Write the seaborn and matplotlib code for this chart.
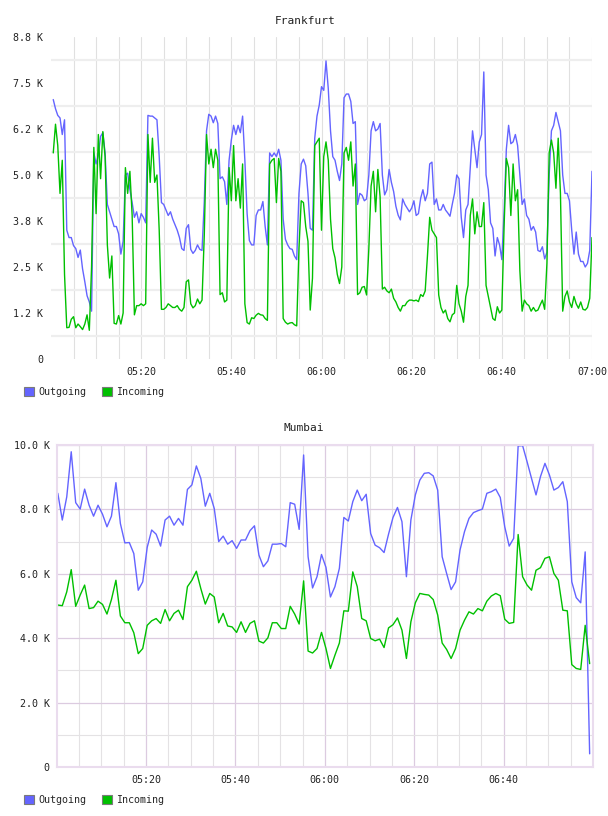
import numpy as np
import pandas as pd
import matplotlib
matplotlib.use("Agg")
import matplotlib.pyplot as plt
import matplotlib.dates as mdates
from matplotlib.patches import Patch
from matplotlib.ticker import FixedLocator, NullFormatter
import seaborn as sns

# ---------------- data (values in thousands) ----------------
frankfurt_times = pd.date_range("2024-01-01 05:00:30", periods=240, freq="30s")
frankfurt_outgoing = [
    7.05, 6.8, 6.62, 6.55, 6.1, 6.5, 3.5, 3.3, 3.3, 3.08,
    3.0, 2.76, 2.96, 2.45, 2.1, 1.72, 1.55, 1.3, 5.6, 5.3,
    5.54, 6.05, 6.15, 5.6, 4.2, 4.0, 3.8, 3.6, 3.6, 3.4,
    2.85, 3.2, 5.0, 5.05, 4.6, 4.25, 3.85, 4.0, 3.7, 3.95,
    3.85, 3.7, 6.62, 6.6, 6.6, 6.55, 6.5, 5.5, 4.25, 4.2,
    4.05, 3.9, 4.0, 3.8, 3.65, 3.5, 3.3, 3.0, 2.95, 3.55,
    3.65, 2.98, 2.87, 2.95, 3.1, 2.98, 2.95, 4.28, 6.2, 6.65,
    6.6, 6.42, 6.6, 6.4, 4.9, 4.95, 4.82, 4.2, 5.4, 5.95,
    6.35, 6.1, 6.35, 6.15, 6.6, 5.4, 3.95, 3.22, 3.1, 3.1,
    3.9, 4.05, 4.05, 4.28, 3.6, 3.1, 5.6, 5.5, 5.6, 5.5,
    5.7, 5.4, 3.8, 3.25, 3.1, 3.0, 2.98, 2.8, 2.7, 4.5,
    5.3, 5.43, 5.25, 4.5, 3.55, 3.5, 6.0, 6.6, 6.9, 7.4,
    7.3, 8.1, 7.35, 6.2, 5.5, 5.4, 5.1, 4.85, 5.3, 7.1,
    7.2, 7.2, 7.0, 6.4, 6.45, 4.2, 4.5, 4.45, 4.3, 4.35,
    5.0, 6.2, 6.45, 6.2, 6.25, 6.4, 5.0, 4.46, 4.6, 5.15,
    4.8, 4.55, 4.15, 3.91, 3.78, 4.35, 4.2, 4.1, 4.0, 4.1,
    4.3, 3.9, 3.95, 4.37, 4.6, 4.3, 4.5, 5.3, 5.35, 4.2,
    4.35, 4.05, 4.05, 4.2, 4.05, 3.97, 3.88, 4.2, 4.5, 5.0,
    4.9, 3.85, 3.3, 4.05, 4.2, 5.2, 6.2, 5.7, 5.2, 5.9,
    6.1, 7.8, 5.0, 4.6, 3.7, 3.55, 2.8, 3.3, 3.1, 2.7,
    4.0, 5.7, 6.35, 5.85, 5.9, 6.1, 5.8, 5.0, 4.2, 4.35,
    3.9, 3.8, 3.5, 3.6, 3.45, 2.95, 2.92, 3.05, 2.72, 2.9,
    5.0, 6.2, 6.35, 6.7, 6.45, 6.2, 5.0, 4.5, 4.5, 4.3,
    3.5, 2.85, 3.45, 2.85, 2.65, 2.65, 2.5, 2.6, 2.95, 5.1,
]
frankfurt_incoming = [
    5.6, 6.38, 5.8, 4.5, 5.4, 2.3, 0.85, 0.86, 1.08, 1.15,
    0.85, 0.95, 0.88, 0.8, 0.95, 1.2, 0.78, 2.5, 5.75, 3.95,
    6.1, 4.9, 6.18, 5.5, 3.1, 2.2, 2.8, 0.97, 0.95, 1.18,
    0.95, 1.25, 5.2, 4.5, 5.1, 3.9, 1.2, 1.45, 1.45, 1.5,
    1.45, 1.5, 6.1, 4.8, 6.0, 4.8, 5.0, 3.5, 1.35, 1.35,
    1.4, 1.5, 1.45, 1.4, 1.4, 1.45, 1.35, 1.3, 1.4, 2.1,
    2.15, 1.5, 1.39, 1.45, 1.63, 1.5, 1.6, 3.37, 6.1, 5.3,
    5.7, 5.2, 5.7, 5.4, 1.75, 1.8, 1.55, 1.6, 5.2, 4.3,
    5.8, 4.3, 4.9, 4.1, 5.3, 1.5, 0.99, 0.95, 1.12, 1.1,
    1.19, 1.24, 1.2, 1.19, 1.1, 1.05, 5.3, 5.4, 5.45, 4.25,
    5.45, 5.1, 1.1, 1.0, 0.95, 0.98, 0.99, 0.93, 0.9, 3.0,
    4.3, 4.25, 3.6, 3.2, 1.33, 2.2, 5.8, 5.9, 6.0, 3.5,
    5.5, 5.9, 5.4, 3.8, 3.0, 2.75, 2.3, 2.05, 2.5, 5.6,
    5.75, 5.4, 5.9, 4.7, 5.3, 1.75, 1.8, 1.95, 1.97, 1.74,
    3.0, 4.7, 5.1, 4.0, 5.15, 4.4, 1.9, 1.95, 1.85, 1.8,
    1.9, 1.65, 1.55, 1.4, 1.3, 1.45, 1.45, 1.55, 1.6, 1.6,
    1.58, 1.6, 1.56, 1.75, 1.7, 1.85, 2.8, 3.85, 3.5, 3.4,
    3.3, 1.74, 1.4, 1.25, 1.33, 1.1, 1.01, 1.2, 1.25, 2.0,
    1.5, 1.3, 1.0, 1.7, 2.0, 3.9, 4.35, 3.4, 4.0, 3.6,
    3.6, 4.25, 2.0, 1.7, 1.4, 1.1, 1.05, 1.42, 1.25, 1.33,
    3.6, 5.45, 5.2, 3.9, 5.3, 4.3, 4.6, 2.4, 1.3, 1.6,
    1.5, 1.45, 1.3, 1.4, 1.3, 1.33, 1.47, 1.6, 1.35, 2.6,
    5.6, 5.95, 5.6, 4.64, 6.0, 4.5, 1.3, 1.7, 1.85, 1.55,
    1.4, 1.7, 1.5, 1.38, 1.55, 1.35, 1.33, 1.4, 1.65, 3.3,
]

mumbai_times = pd.date_range("2024-01-01 05:00:15", periods=120, freq="60s")
mumbai_outgoing = [
    8.5, 7.67, 8.39, 9.79, 8.21, 8.01, 8.63, 8.13, 7.79, 8.13,
    7.85, 7.46, 7.79, 8.83, 7.56, 6.96, 6.97, 6.63, 5.49, 5.75,
    6.82, 7.36, 7.23, 6.86, 7.67, 7.79, 7.51, 7.72, 7.51, 8.62,
    8.76, 9.35, 8.96, 8.1, 8.5, 8.03, 7.0, 7.17, 6.92, 7.03,
    6.79, 7.05, 7.05, 7.34, 7.49, 6.58, 6.22, 6.4, 6.92, 6.92,
    6.94, 6.84, 8.21, 8.16, 7.38, 9.69, 6.53, 5.56, 5.91, 6.6,
    6.2, 5.28, 5.6, 6.17, 7.75, 7.64, 8.24, 8.6, 8.27, 8.47,
    7.25, 6.89, 6.81, 6.66, 7.23, 7.75, 8.06, 7.62, 5.91, 7.67,
    8.45, 8.91, 9.12, 9.14, 9.04, 8.6, 6.53, 6.01, 5.51, 5.75,
    6.74, 7.31, 7.72, 7.9, 7.96, 8.01, 8.5, 8.55, 8.63, 8.37,
    7.46, 6.86, 7.1, 9.97, 9.98, 9.48, 8.96, 8.45, 9.02, 9.43,
    9.07, 8.6, 8.68, 8.86, 8.24, 5.75, 5.26, 5.1, 6.68, 0.41,
]
mumbai_incoming = [
    5.03, 5.01, 5.44, 6.13, 4.99, 5.34, 5.65, 4.92, 4.95, 5.15,
    5.05, 4.75, 5.2, 5.8, 4.69, 4.48, 4.48, 4.17, 3.52, 3.68,
    4.4, 4.54, 4.61, 4.46, 4.89, 4.54, 4.77, 4.87, 4.58, 5.6,
    5.8, 6.08, 5.54, 5.06, 5.39, 5.28, 4.48, 4.77, 4.38, 4.35,
    4.18, 4.51, 4.18, 4.46, 4.54, 3.91, 3.85, 4.01, 4.48, 4.48,
    4.3, 4.3, 4.99, 4.75, 4.44, 5.78, 3.6, 3.54, 3.68, 4.18,
    3.68, 3.06, 3.47, 3.85, 4.85, 4.84, 6.06, 5.6, 4.61, 4.54,
    3.99, 3.92, 3.97, 3.71, 4.32, 4.42, 4.63, 4.25, 3.37, 4.51,
    5.1, 5.39, 5.36, 5.34, 5.2, 4.72, 3.85, 3.65, 3.37, 3.68,
    4.25, 4.56, 4.82, 4.75, 4.92, 4.85, 5.15, 5.31, 5.39, 5.32,
    4.59, 4.46, 4.49, 7.22, 5.91, 5.65, 5.49, 6.11, 6.19, 6.48,
    6.53, 6.01, 5.8, 4.87, 4.85, 3.18, 3.06, 3.03, 4.4, 3.21,
]

series_names = ["Outgoing", "Incoming"]
frankfurt_ytick_labels = ["0", "1.2 K", "2.5 K", "3.8 K", "5.0 K", "6.2 K", "7.5 K", "8.8 K"]
mumbai_ytick_labels = ["0", "2.0 K", "4.0 K", "6.0 K", "8.0 K", "10.0 K"]
frankfurt_xtick_labels = ["05:20", "05:40", "06:00", "06:20", "06:40", "07:00"]
mumbai_xtick_labels = ["05:20", "05:40", "06:00", "06:20", "06:40"]

# ---------------- style ----------------
sns.set_theme(style="white")
plt.rcParams['font.family'] = ['DejaVu Sans Mono', 'DejaVu Sans']

BLUE = "#6464ff"
GREEN = "#00c000"
palette = {"Outgoing": BLUE, "Incoming": GREEN}
DAY = "2024-01-01 "

fig = plt.figure(figsize=(6.08, 8.16), dpi=100)
W, H = 608.0, 816.0
ax1 = fig.add_axes([51 / W, 1 - 359 / H, 541 / W, 322 / H])
ax2 = fig.add_axes([56.7 / W, 1 - 767 / H, 536.3 / W, 322 / H])


def draw(ax, times, out, inc):
    df = pd.DataFrame({
        "time": list(times) * 2,
        "value": list(out) + list(inc),
        "dir": [series_names[0]] * len(out) + [series_names[1]] * len(inc),
    })
    sns.lineplot(data=df, x="time", y="value", hue="dir", hue_order=series_names,
                 palette=palette, estimator=None, linewidth=1.0, ax=ax, legend=False)
    ax.set_xlabel("")
    ax.set_ylabel("")


def tnum(labels):
    return [mdates.date2num(pd.Timestamp(DAY + l)) for l in labels]


# ---------- Frankfurt ----------
draw(ax1, frankfurt_times, frankfurt_outgoing, frankfurt_incoming)
ax1.set_xlim(mdates.date2num(pd.Timestamp(DAY + "05:00")), mdates.date2num(pd.Timestamp(DAY + "07:00")))
ax1.set_ylim(0, 8.75)
for s in ax1.spines.values():
    s.set_visible(False)
ax1.yaxis.set_major_locator(FixedLocator([0, 1.25, 2.5, 3.75, 5.0, 6.25, 7.5, 8.75]))
ax1.set_yticklabels(frankfurt_ytick_labels)
ax1.yaxis.set_minor_locator(FixedLocator([0.625, 1.875, 3.125, 4.375, 5.625, 6.875, 8.125]))
ax1.xaxis.set_major_locator(FixedLocator(tnum(frankfurt_xtick_labels)))
ax1.set_xticklabels(frankfurt_xtick_labels)
five_min = [t.strftime("%H:%M") for t in pd.date_range(DAY + "05:05", DAY + "07:00", freq="5min")]
ax1.xaxis.set_minor_locator(FixedLocator(tnum(five_min)))
ax1.xaxis.set_minor_formatter(NullFormatter())
ax1.yaxis.set_minor_formatter(NullFormatter())
ax1.grid(False)
ax1.grid(True, which="minor", axis="y", color="#eeeeee", linewidth=1.6)
ax1.grid(True, which="both", axis="x", color="#e0e0e0", linewidth=0.8)
ax1.set_axisbelow(True)
ax1.tick_params(axis="both", which="both", length=0, labelsize=7.2, colors="#222222")
ax1.tick_params(axis="y", pad=5.5)
ax1.tick_params(axis="x", pad=6.0)

# ---------- Mumbai ----------
draw(ax2, mumbai_times, mumbai_outgoing, mumbai_incoming)
ax2.set_xlim(mdates.date2num(pd.Timestamp(DAY + "05:00")), mdates.date2num(pd.Timestamp(DAY + "07:00")))
ax2.set_ylim(0, 10)
for s in ax2.spines.values():
    s.set_visible(True)
    s.set_color("#eadcee")
    s.set_linewidth(1.5)
ax2.yaxis.set_major_locator(FixedLocator([0, 2, 4, 6, 8, 10]))
ax2.set_yticklabels(mumbai_ytick_labels)
ax2.yaxis.set_minor_locator(FixedLocator([1, 3, 5, 7, 9]))
ax2.xaxis.set_major_locator(FixedLocator(tnum(mumbai_xtick_labels)))
ax2.set_xticklabels(mumbai_xtick_labels)
ax2.xaxis.set_minor_locator(FixedLocator(tnum(five_min)))
ax2.xaxis.set_minor_formatter(NullFormatter())
ax2.yaxis.set_minor_formatter(NullFormatter())
ax2.grid(False)
ax2.grid(True, which="major", axis="both", color="#dccbe0", linewidth=0.9)
ax2.grid(True, which="minor", axis="both", color="#e4e2e4", linewidth=0.8)
ax2.set_axisbelow(True)
ax2.tick_params(axis="both", which="both", length=0, labelsize=7.2, colors="#222222")
ax2.tick_params(axis="y", pad=5.0)
ax2.tick_params(axis="x", pad=6.0)

# ---------- titles ----------
fig.text(305 / W, 1 - 20.5 / H, "Frankfurt", ha="center", va="center", fontsize=8, color="#222222")
fig.text(304 / W, 1 - 428 / H, "Mumbai", ha="center", va="center", fontsize=8, color="#222222")

# ---------- legends ----------
handles = [Patch(facecolor=palette[n], edgecolor="#7a7a7a", linewidth=0.8, label=n) for n in series_names]
for yc in (392, 800):
    fig.legend(handles=handles, loc="center left", bbox_to_anchor=(24 / W, 1 - yc / H),
               ncol=2, frameon=False, fontsize=7.2, handlelength=1.0, handleheight=1.0,
               handletextpad=0.4, columnspacing=1.6, borderpad=0, borderaxespad=0)

fig.savefig("out.png", dpi=100)
